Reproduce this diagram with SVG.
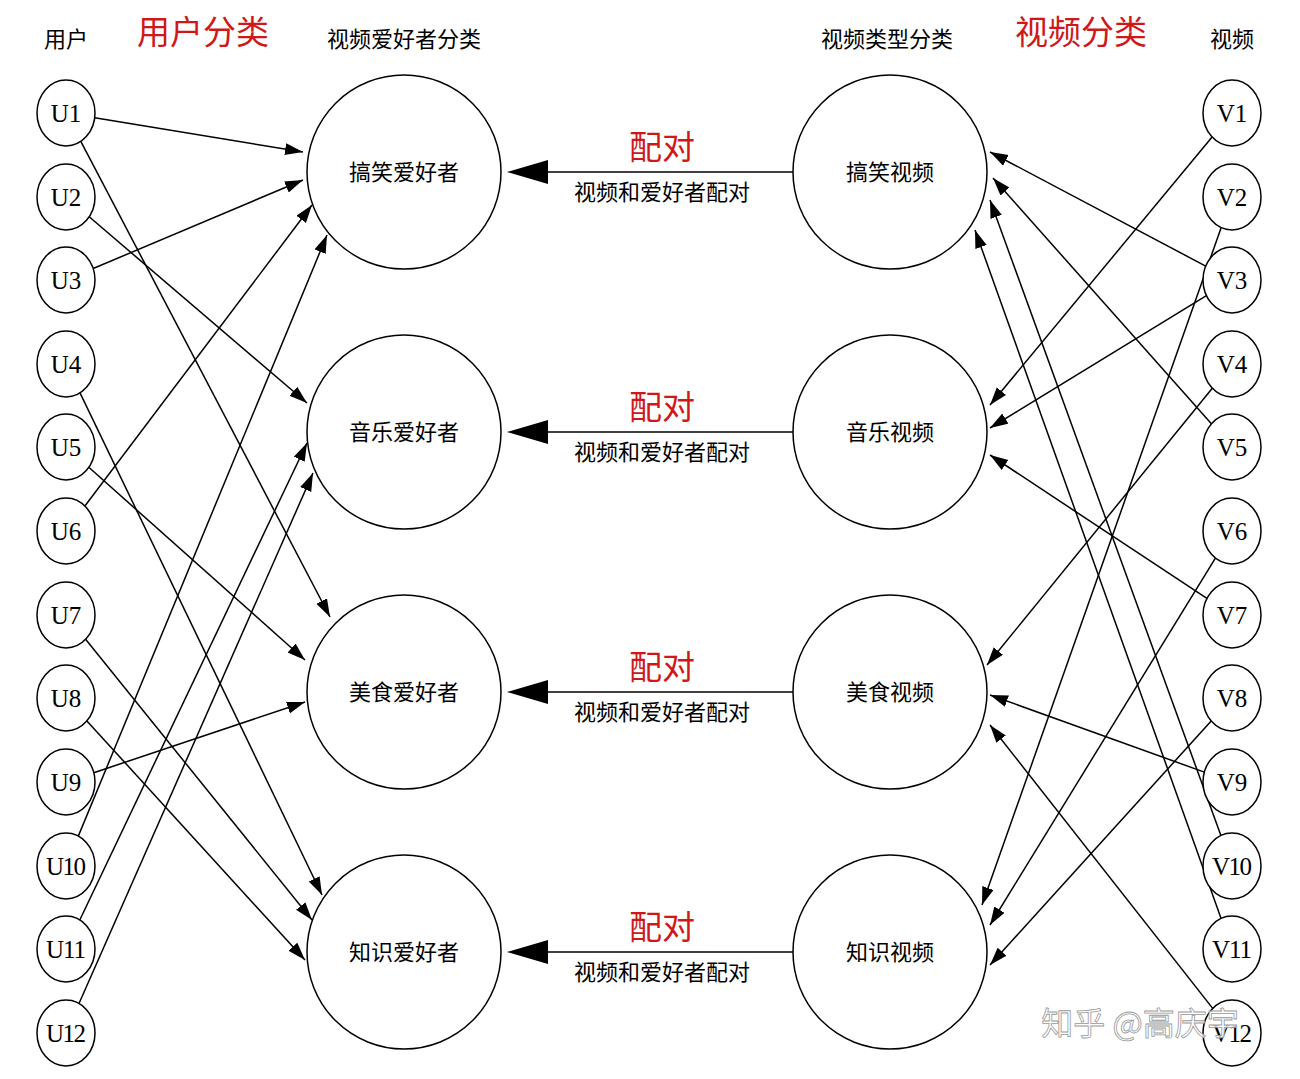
<svg xmlns="http://www.w3.org/2000/svg" width="1300" height="1079" viewBox="0 0 1300 1079">
<style>
.n{fill:#fff;stroke:#000;stroke-width:1.5}
.c{font-family:"Liberation Serif","Noto Sans CJK SC",serif;font-size:25px;text-anchor:middle;fill:#000}
.h{font-family:"Noto Sans CJK SC",sans-serif;font-size:22px;text-anchor:middle;fill:#000}
.r{font-family:"Noto Sans CJK SC",sans-serif;font-size:33px;text-anchor:middle;fill:#d01818}
.e line{stroke:#000;stroke-width:1.5;marker-end:url(#a)}
.p line{stroke:#000;stroke-width:1.5}
</style>
<defs>
<marker id="a" markerUnits="userSpaceOnUse" markerWidth="20" markerHeight="14" refX="18" refY="6" orient="auto"><path d="M0,0 L18,6 L0,12 Z" fill="#000"/></marker>
</defs>
<rect width="1300" height="1079" fill="#fff"/>
<text class="h" x="66" y="47">用户</text>
<text class="r" x="203" y="44">用户分类</text>
<text class="h" x="404" y="47">视频爱好者分类</text>
<text class="h" x="887" y="47">视频类型分类</text>
<text class="r" x="1081" y="44">视频分类</text>
<text class="h" x="1232" y="47">视频</text>
<g class="e" id="connectors">
<line x1="94.7" y1="117.7" x2="303" y2="152"/>
<line x1="80.8" y1="141.3" x2="330" y2="617"/>
<line x1="89.2" y1="216.8" x2="307" y2="403"/>
<line x1="93.2" y1="268.5" x2="303" y2="180"/>
<line x1="80" y1="392.9" x2="322" y2="895"/>
<line x1="88.8" y1="467.3" x2="305" y2="660"/>
<line x1="84.9" y1="506" x2="312" y2="205"/>
<line x1="85.6" y1="639.3" x2="312" y2="920"/>
<line x1="86.9" y1="720.9" x2="305" y2="960"/>
<line x1="93.8" y1="772.7" x2="305" y2="702"/>
<line x1="78.3" y1="836.1" x2="327" y2="235"/>
<line x1="79.8" y1="920" x2="307" y2="443"/>
<line x1="79" y1="1003.5" x2="313" y2="473"/>
<line x1="1212.1" y1="137" x2="990" y2="405"/>
<line x1="1221.2" y1="227.6" x2="982" y2="905"/>
<line x1="1205.7" y1="266.1" x2="990" y2="152"/>
<line x1="1206.4" y1="295.6" x2="990" y2="428"/>
<line x1="1212.3" y1="388.2" x2="987" y2="665"/>
<line x1="1211.4" y1="423.8" x2="993" y2="178"/>
<line x1="1215.4" y1="558.1" x2="990" y2="925"/>
<line x1="1206.9" y1="598.4" x2="990" y2="455"/>
<line x1="1211.2" y1="721" x2="990" y2="965"/>
<line x1="1204.3" y1="772.1" x2="990" y2="695"/>
<line x1="1220.9" y1="835.5" x2="990" y2="200"/>
<line x1="1221.1" y1="918.4" x2="975" y2="230"/>
<line x1="1212.7" y1="1008.4" x2="990" y2="725"/>
</g>
<g class="p" id="pairs">
<line x1="793" y1="172" x2="545" y2="172"/><path d="M507,172 L548,160 L548,184 Z"/>
<line x1="793" y1="432" x2="545" y2="432"/><path d="M507,432 L548,420 L548,444 Z"/>
<line x1="793" y1="692" x2="545" y2="692"/><path d="M507,692 L548,680 L548,704 Z"/>
<line x1="793" y1="952" x2="545" y2="952"/><path d="M507,952 L548,940 L548,964 Z"/>
<text class="r" x="662" y="159">配对</text><text class="h" x="662" y="200">视频和爱好者配对</text>
<text class="r" x="662" y="419">配对</text><text class="h" x="662" y="460">视频和爱好者配对</text>
<text class="r" x="662" y="679">配对</text><text class="h" x="662" y="720">视频和爱好者配对</text>
<text class="r" x="662" y="939">配对</text><text class="h" x="662" y="980">视频和爱好者配对</text>
</g>
<g id="U1"><ellipse class="n" cx="66" cy="113" rx="29" ry="33"/><text class="c" x="66" y="122">U1</text></g>
<g id="U2"><ellipse class="n" cx="66" cy="197" rx="29" ry="33"/><text class="c" x="66" y="206">U2</text></g>
<g id="U3"><ellipse class="n" cx="66" cy="280" rx="29" ry="33"/><text class="c" x="66" y="289">U3</text></g>
<g id="U4"><ellipse class="n" cx="66" cy="364" rx="29" ry="33"/><text class="c" x="66" y="373">U4</text></g>
<g id="U5"><ellipse class="n" cx="66" cy="447" rx="29" ry="33"/><text class="c" x="66" y="456">U5</text></g>
<g id="U6"><ellipse class="n" cx="66" cy="531" rx="29" ry="33"/><text class="c" x="66" y="540">U6</text></g>
<g id="U7"><ellipse class="n" cx="66" cy="615" rx="29" ry="33"/><text class="c" x="66" y="624">U7</text></g>
<g id="U8"><ellipse class="n" cx="66" cy="698" rx="29" ry="33"/><text class="c" x="66" y="707">U8</text></g>
<g id="U9"><ellipse class="n" cx="66" cy="782" rx="29" ry="33"/><text class="c" x="66" y="791">U9</text></g>
<g id="U10"><ellipse class="n" cx="66" cy="866" rx="29" ry="33"/><text class="c" x="66" y="875" textLength="40">U10</text></g>
<g id="U11"><ellipse class="n" cx="66" cy="949" rx="29" ry="33"/><text class="c" x="66" y="958" textLength="40">U11</text></g>
<g id="U12"><ellipse class="n" cx="66" cy="1033" rx="29" ry="33"/><text class="c" x="66" y="1042" textLength="40">U12</text></g>
<g id="V1"><ellipse class="n" cx="1232" cy="113" rx="29" ry="33"/><text class="c" x="1232" y="122">V1</text></g>
<g id="V2"><ellipse class="n" cx="1232" cy="197" rx="29" ry="33"/><text class="c" x="1232" y="206">V2</text></g>
<g id="V3"><ellipse class="n" cx="1232" cy="280" rx="29" ry="33"/><text class="c" x="1232" y="289">V3</text></g>
<g id="V4"><ellipse class="n" cx="1232" cy="364" rx="29" ry="33"/><text class="c" x="1232" y="373">V4</text></g>
<g id="V5"><ellipse class="n" cx="1232" cy="447" rx="29" ry="33"/><text class="c" x="1232" y="456">V5</text></g>
<g id="V6"><ellipse class="n" cx="1232" cy="531" rx="29" ry="33"/><text class="c" x="1232" y="540">V6</text></g>
<g id="V7"><ellipse class="n" cx="1232" cy="615" rx="29" ry="33"/><text class="c" x="1232" y="624">V7</text></g>
<g id="V8"><ellipse class="n" cx="1232" cy="698" rx="29" ry="33"/><text class="c" x="1232" y="707">V8</text></g>
<g id="V9"><ellipse class="n" cx="1232" cy="782" rx="29" ry="33"/><text class="c" x="1232" y="791">V9</text></g>
<g id="V10"><ellipse class="n" cx="1232" cy="866" rx="29" ry="33"/><text class="c" x="1232" y="875" textLength="40">V10</text></g>
<g id="V11"><ellipse class="n" cx="1232" cy="949" rx="29" ry="33"/><text class="c" x="1232" y="958" textLength="40">V11</text></g>
<g id="V12"><ellipse class="n" cx="1232" cy="1033" rx="29" ry="33"/><text class="c" x="1232" y="1042" textLength="40">V12</text></g>
<g id="L1"><circle class="n" cx="404" cy="172" r="97"/><text class="h" x="404" y="180">搞笑爱好者</text></g>
<g id="L2"><circle class="n" cx="404" cy="432" r="97"/><text class="h" x="404" y="440">音乐爱好者</text></g>
<g id="L3"><circle class="n" cx="404" cy="692" r="97"/><text class="h" x="404" y="700">美食爱好者</text></g>
<g id="L4"><circle class="n" cx="404" cy="952" r="97"/><text class="h" x="404" y="960">知识爱好者</text></g>
<g id="R1"><circle class="n" cx="890" cy="172" r="97"/><text class="h" x="890" y="180">搞笑视频</text></g>
<g id="R2"><circle class="n" cx="890" cy="432" r="97"/><text class="h" x="890" y="440">音乐视频</text></g>
<g id="R3"><circle class="n" cx="890" cy="692" r="97"/><text class="h" x="890" y="700">美食视频</text></g>
<g id="R4"><circle class="n" cx="890" cy="952" r="97"/><text class="h" x="890" y="960">知识视频</text></g>
<text x="1140" y="1035" font-family="Noto Sans CJK SC,sans-serif" font-size="32" text-anchor="middle" fill="#fff" fill-opacity="0.75" stroke="#999" stroke-width="0.8">知乎 @高庆宇</text>
</svg>
